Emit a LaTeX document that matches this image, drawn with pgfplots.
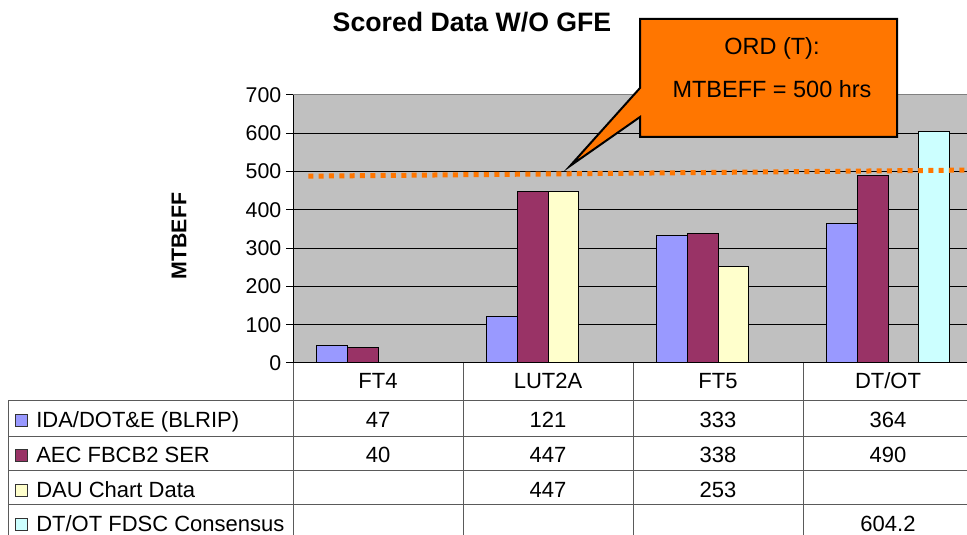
\documentclass[border=0pt]{standalone}
\usepackage{pgfplots}
\pgfplotsset{compat=1.18}
\usepackage{fontspec}
\setmainfont{Liberation Sans}
\definecolor{idab}{RGB}{153,153,255}
\definecolor{aecm}{RGB}{153,51,102}
\definecolor{dauy}{RGB}{255,255,204}
\definecolor{dotc}{RGB}{204,255,255}
\definecolor{plotbg}{RGB}{192,192,192}
\definecolor{ordor}{RGB}{255,118,0}
\definecolor{tblline}{RGB}{90,90,90}
\begin{document}
\begin{tikzpicture}
\begin{axis}[
  at={(219.75pt,129pt)}, anchor=south west,
  scale only axis, width=510pt, height=201pt,
  xmin=-0.5, xmax=3.5, ymin=0, ymax=700,
  xtick=\empty,
  ytick={0,100,...,700},
  ytick pos=left,
  ymajorgrids, grid style={black, line width=0.75pt},
  axis line style={draw=none},
  axis background/.style={fill=plotbg},
  ytick align=outside, major tick length=5.25pt,
  ytick style={black, line width=0.75pt},
  yticklabel style={font=\fontsize{16}{16}\selectfont},
  /pgf/number format/assume math mode=true,
  clip=false,
]
\addplot[ybar, bar width=0.18, bar shift=-0.27, fill=idab, draw=black, line width=0.75pt] coordinates {(0,47) (1,121) (2,333) (3,364)};
\addplot[ybar, bar width=0.18, bar shift=-0.09, fill=aecm, draw=black, line width=0.75pt] coordinates {(0,40) (1,447) (2,338) (3,490)};
\addplot[ybar, bar width=0.18, bar shift=0.09, fill=dauy, draw=black, line width=0.75pt] coordinates {(1,447) (2,253)};
\addplot[ybar, bar width=0.18, bar shift=0.27, fill=dotc, draw=black, line width=0.75pt] coordinates {(3,604.2)};
\addplot[ordor, line width=3.75pt, dash pattern=on 3.75pt off 4pt] coordinates {(-0.41,488) (3.5,504)};
\draw[black, line width=0.75pt] (rel axis cs:0,0) -- (rel axis cs:0,1);
\draw[black, line width=0.75pt] (rel axis cs:0,0) -- (rel axis cs:1,0);
\draw[gray, line width=0.75pt] (rel axis cs:0,1) -- (rel axis cs:1,1);
\end{axis}
\begin{scope}[x=0.75pt,y=0.75pt]
% data table
\begin{scope}[tblline, line width=0.75pt]
\draw (8,134) -- (980,134);
\draw (8,98) -- (980,98);
\draw (8,64) -- (980,64);
\draw (8,30) -- (980,30);
\draw (8,134) -- (8,-10);
\draw (293,172) -- (293,-10);
\draw (463,172) -- (463,-10);
\draw (633,172) -- (633,-10);
\draw (803,172) -- (803,-10);
\end{scope}
\begin{scope}[every node/.style={inner sep=0pt, font=\fontsize{16.5}{16.5}\selectfont}]
\node[anchor=base] at (378,146) {FT4};
\node[anchor=base] at (548,146) {LUT2A};
\node[anchor=base] at (718,146) {FT5};
\node[anchor=base] at (888,146) {DT/OT};
\filldraw[fill=idab, draw=black!80, line width=0.6pt] (15,109) rectangle (27,121);
\filldraw[fill=aecm, draw=black!80, line width=0.6pt] (15,74) rectangle (27,86);
\filldraw[fill=dauy, draw=black!80, line width=0.6pt] (15,39) rectangle (27,51);
\filldraw[fill=dotc, draw=black!80, line width=0.6pt] (15,5) rectangle (27,17);
\node[anchor=base west] at (36,107) {IDA/DOT\&E (BLRIP)};
\node[anchor=base west] at (36,72) {AEC FBCB2 SER};
\node[anchor=base west] at (36,37) {DAU Chart Data};
\node[anchor=base west] at (36,3) {DT/OT FDSC Consensus};
\node[anchor=base] at (378,107) {47};
\node[anchor=base] at (548,107) {121};
\node[anchor=base] at (718,107) {333};
\node[anchor=base] at (888,107) {364};
\node[anchor=base] at (378,72) {40};
\node[anchor=base] at (548,72) {447};
\node[anchor=base] at (718,72) {338};
\node[anchor=base] at (888,72) {490};
\node[anchor=base] at (548,37) {447};
\node[anchor=base] at (718,37) {253};
\node[anchor=base] at (888,3) {604.2};
\end{scope}
% title and y label
\node[anchor=base, inner sep=0pt, font=\bfseries\fontsize{20}{20}\selectfont] at (472,503) {Scored Data W/O GFE};
\node[rotate=90, inner sep=0pt, font=\bfseries\fontsize{16}{16}\selectfont] at (179,299) {MTBEFF};
% callout
\filldraw[fill=ordor, draw=black, line width=1.5pt, line join=miter] (640,516) -- (897,516) -- (897,398) -- (640,398) -- (640,418) -- (570,369) -- (640,447) -- cycle;
\node[anchor=base, inner sep=0pt, font=\fontsize{17.6}{17.6}\selectfont] at (772,480) {ORD (T):};
\node[anchor=base, inner sep=0pt, font=\fontsize{17.6}{17.6}\selectfont] at (772,437) {MTBEFF = 500 hrs};
\end{scope}
\pgfresetboundingbox
\useasboundingbox (0,0) rectangle (725.25pt,401.25pt);
\end{tikzpicture}
\end{document}
